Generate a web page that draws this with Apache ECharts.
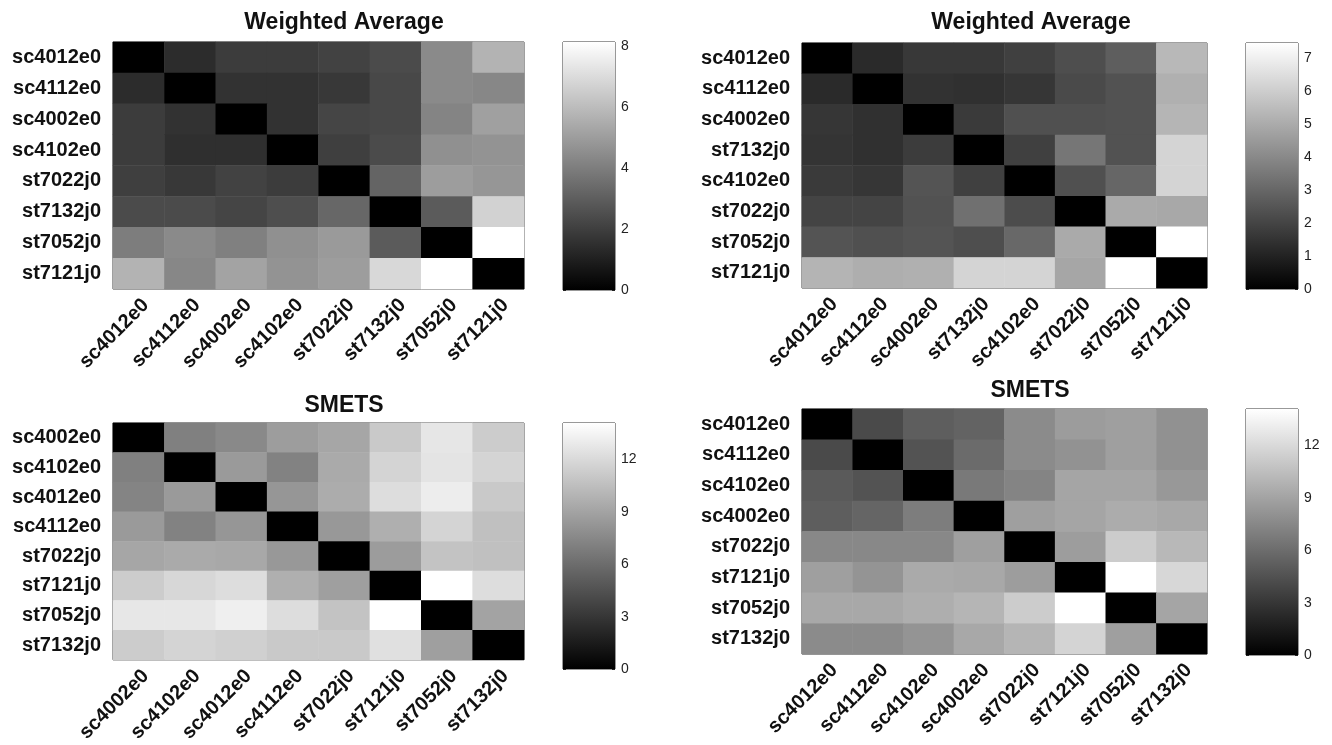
<!DOCTYPE html>
<html>
<head>
<meta charset="utf-8">
<title>Weighted Average / SMETS</title>
<script src="https://cdn.jsdelivr.net/npm/echarts@6/dist/echarts.min.js"></script>
<style>
  html, body { margin: 0; padding: 0; background: #fff; }
  #main { width: 1332px; height: 745px; }
</style>
</head>
<body>
<div id="main"></div>
<script>
// labels of each panel (rows top to bottom = columns left to right)
var waLeftLabels = ['sc4012e0', 'sc4112e0', 'sc4002e0', 'sc4102e0', 'st7022j0', 'st7132j0', 'st7052j0', 'st7121j0'];
var waRightLabels = ['sc4012e0', 'sc4112e0', 'sc4002e0', 'st7132j0', 'sc4102e0', 'st7022j0', 'st7052j0', 'st7121j0'];
var smLeftLabels = ['sc4002e0', 'sc4102e0', 'sc4012e0', 'sc4112e0', 'st7022j0', 'st7121j0', 'st7052j0', 'st7132j0'];
var smRightLabels = ['sc4012e0', 'sc4112e0', 'sc4102e0', 'sc4002e0', 'st7022j0', 'st7121j0', 'st7052j0', 'st7132j0'];

// distance matrices, one row per y label
var waLeftValues = [
    [0, 1.4, 1.9, 1.9, 2.1, 2.4, 4.4, 5.7],
    [1.4, 0, 1.6, 1.6, 1.8, 2.3, 4.4, 4.3],
    [1.9, 1.6, 0, 1.6, 2.2, 2.3, 4.2, 5.1],
    [1.9, 1.5, 1.5, 0, 2.0, 2.4, 4.6, 4.7],
    [2.0, 1.8, 2.1, 1.9, 0, 3.2, 5.0, 4.8],
    [2.4, 2.4, 2.2, 2.5, 3.3, 0, 2.9, 6.7],
    [4.0, 4.4, 4.1, 4.6, 4.9, 2.9, 0, 8.14],
    [5.7, 4.3, 5.2, 4.7, 5.0, 6.9, 8.14, 0]
];
var waRightValues = [
    [0, 1.23, 1.64, 1.64, 1.87, 2.28, 2.75, 5.38],
    [1.23, 0, 1.46, 1.4, 1.58, 2.16, 2.4, 5.14],
    [1.58, 1.4, 0, 1.7, 2.34, 2.34, 2.4, 5.3],
    [1.52, 1.4, 1.75, 0, 1.87, 3.45, 2.4, 6.2],
    [1.7, 1.58, 2.45, 1.87, 0, 2.34, 2.98, 6.2],
    [1.99, 1.99, 2.4, 3.27, 2.22, 0, 4.97, 4.9],
    [2.45, 2.34, 2.45, 2.28, 3.04, 4.97, 0, 7.45],
    [5.26, 5.08, 5.14, 6.2, 6.2, 4.85, 7.45, 0]
];
var smLeftValues = [
    [0, 7.1, 7.6, 8.7, 9.2, 11.1, 12.7, 11.3],
    [7.1, 0, 8.5, 7.2, 9.4, 11.7, 12.6, 11.7],
    [7.3, 8.5, 0, 8.3, 9.5, 12.2, 13.1, 11.1],
    [8.5, 7.2, 8.3, 0, 8.4, 9.7, 11.7, 10.6],
    [9.2, 9.4, 9.3, 8.4, 0, 8.6, 10.8, 10.6],
    [11.3, 11.9, 12.2, 9.7, 8.8, 0, 14.1, 12.2],
    [12.8, 12.8, 13.2, 12.2, 10.8, 14.1, 0, 9.0],
    [11.3, 11.7, 11.5, 11.1, 11.1, 12.4, 8.8, 0]
];
var smRightValues = [
    [0, 4.1, 5.2, 5.5, 7.7, 8.6, 8.8, 8.0],
    [4.1, 0, 4.6, 5.9, 7.7, 8.1, 8.8, 8.0],
    [5.0, 4.6, 0, 6.7, 7.3, 9.1, 9.1, 8.4],
    [5.2, 5.6, 6.9, 0, 8.8, 9.1, 9.5, 9.3],
    [7.5, 7.5, 7.5, 8.8, 0, 8.7, 11.3, 10.2],
    [8.8, 8.2, 9.4, 9.3, 8.7, 0, 14.1, 11.9],
    [9.3, 9.3, 9.6, 10.0, 11.3, 14.1, 0, 9.1],
    [7.7, 7.7, 8.2, 9.3, 10.0, 11.7, 8.8, 0]
];

// colour bar ranges and tick steps
var colorMax = [8.14, 7.45, 14.1, 14.1];
var colorStep = [2, 1, 3, 3];
var panelTitles = ['Weighted Average', 'Weighted Average', 'SMETS', 'SMETS'];

var panels = [
    { labels: waLeftLabels, values: waLeftValues, grid: [113, 42, 411, 247], bar: [563, 42, 52, 248], title: [339, 6] },
    { labels: waRightLabels, values: waRightValues, grid: [802, 43, 405, 245], bar: [1246, 43, 52, 246], title: [1026, 6] },
    { labels: smLeftLabels, values: smLeftValues, grid: [113, 423, 411, 246], bar: [563, 423, 52, 246], title: [339, 389] },
    { labels: smRightLabels, values: smRightValues, grid: [802, 409, 405, 245], bar: [1246, 409, 52, 246], title: [1025, 374] }
];

var FONT = '"Liberation Sans", Arial, sans-serif';
var option = { animation: false, backgroundColor: '#fff', title: [], grid: [], xAxis: [], yAxis: [], visualMap: [], series: [] };

panels.forEach(function (p, i) {
    var g = p.grid, b = p.bar;

    option.title.push({
        text: panelTitles[i], left: p.title[0], top: p.title[1], textAlign: 'center',
        textStyle: { fontFamily: FONT, fontSize: 23, fontWeight: 'bold', color: '#111' }
    });

    // heatmap grid
    var heatGrid = option.grid.length;
    option.grid.push({ left: g[0], top: g[1], width: g[2], height: g[3], show: true, borderColor: '#333', borderWidth: 1 });
    var hx = option.xAxis.length;
    option.xAxis.push({
        type: 'category', gridIndex: heatGrid, data: p.labels, position: 'bottom',
        axisLine: { show: false }, axisTick: { show: false }, splitLine: { show: false },
        axisLabel: { rotate: 45, margin: 6, interval: 0, verticalAlign: 'top', fontFamily: FONT, fontSize: 20, fontWeight: 'bold', color: '#111' }
    });
    var hy = option.yAxis.length;
    option.yAxis.push({
        type: 'category', gridIndex: heatGrid, data: p.labels, inverse: true,
        axisLine: { show: false }, axisTick: { show: false }, splitLine: { show: false },
        axisLabel: { margin: 12, interval: 0, fontFamily: FONT, fontSize: 20, fontWeight: 'bold', color: '#111' }
    });

    var cells = [];
    p.values.forEach(function (row, r) {
        row.forEach(function (v, c) { cells.push([c, r, v]); });
    });
    option.series.push({
        type: 'heatmap', xAxisIndex: hx, yAxisIndex: hy, data: cells,
        itemStyle: { borderWidth: 0 }, emphasis: { disabled: true }
    });
    option.visualMap.push({
        type: 'continuous', show: false, seriesIndex: option.series.length - 1, dimension: 2,
        min: 0, max: colorMax[i], inRange: { color: ['#000000', '#ffffff'] }
    });

    // colour bar: a single gradient bar on its own value axis
    var barGrid = option.grid.length;
    option.grid.push({ left: b[0], top: b[1], width: b[2], height: b[3], show: true, borderColor: '#333', borderWidth: 1 });
    var bx = option.xAxis.length;
    option.xAxis.push({ type: 'category', gridIndex: barGrid, data: ['cb'], show: false });
    var axisBase = {
        type: 'value', gridIndex: barGrid, min: 0, max: colorMax[i], interval: colorStep[i],
        splitLine: { show: false }, axisLine: { show: false },
        axisTick: { show: true, inside: true, length: 3, lineStyle: { color: '#222' } }
    };
    var by = option.yAxis.length;
    option.yAxis.push(Object.assign({}, axisBase, {
        position: 'right',
        axisLabel: { showMaxLabel: false, margin: 6, fontFamily: FONT, fontSize: 14, color: '#222' }
    }));
    option.yAxis.push(Object.assign({}, axisBase, { position: 'left', axisLabel: { show: false } }));
    option.series.push({
        type: 'bar', xAxisIndex: bx, yAxisIndex: by,
        data: [colorMax[i]], barWidth: '100%', silent: true,
        itemStyle: {
            color: new echarts.graphic.LinearGradient(0, 0, 0, 1, [
                { offset: 0, color: '#ffffff' }, { offset: 1, color: '#000000' }
            ])
        }
    });
});

var myChart = echarts.init(document.getElementById('main'));
myChart.setOption(option);
</script>
</body>
</html>
